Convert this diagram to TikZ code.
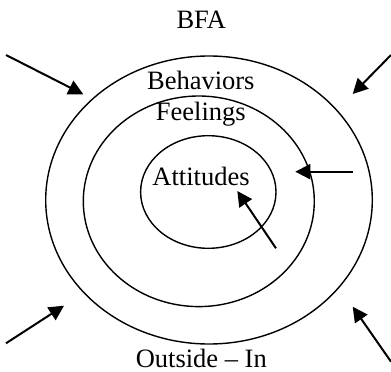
\documentclass[tikz,border=0pt]{standalone}
\usepackage{fontspec}
\setmainfont{Liberation Serif}
\usetikzlibrary{arrows.meta}
\begin{document}
\begin{tikzpicture}[x=1pt,y=-1pt,
  ring/.style={draw=black,line width=1.4pt},
  label/.style={font=\fontsize{26.5}{30}\selectfont,inner sep=0pt,anchor=base},
  inarrow/.style={draw=black,line width=2pt,-{Triangle[length=15pt,width=15pt]}}]
\useasboundingbox (0,0) rectangle (391,372);
% rings
\draw[ring] (209,200) ellipse [x radius=163.3, y radius=144];
\draw[ring] (198.8,201.3) ellipse [x radius=115.5, y radius=105.3];
\draw[ring] (208.3,192) ellipse [x radius=67.7, y radius=56.3];
% labels
\node[label] (bfa) at (201.3,28) {BFA};
\node[label] (beh) at (200.8,89.5) {Behaviors};
\node[label] (fee) at (200.8,120) {Feelings};
\node[label] (att) at (201,185) {Attitudes};
\node[label] (out) at (201.3,367) {Outside – In};
% arrow ends
\coordinate (a1s) at (6,55);     \coordinate (a1e) at (83.3,94.3);
\coordinate (a2s) at (391,55);   \coordinate (a2e) at (352.7,94);
\coordinate (a3s) at (353.3,171.7); \coordinate (a3e) at (295.3,171.7);
\coordinate (a4s) at (276,248.3); \coordinate (a4e) at (237.3,191);
\coordinate (a5s) at (6,343.3);  \coordinate (a5e) at (64,305.7);
\coordinate (a6s) at (391,361.7); \coordinate (a6e) at (352.7,306.7);
\draw[inarrow] (a1s) -- (a1e);
\draw[inarrow] (a2s) -- (a2e);
\draw[inarrow] (a3s) -- (a3e);
\draw[inarrow] (a4s) -- (a4e);
\draw[inarrow] (a5s) -- (a5e);
\draw[inarrow] (a6s) -- (a6e);
\end{tikzpicture}
\end{document}
